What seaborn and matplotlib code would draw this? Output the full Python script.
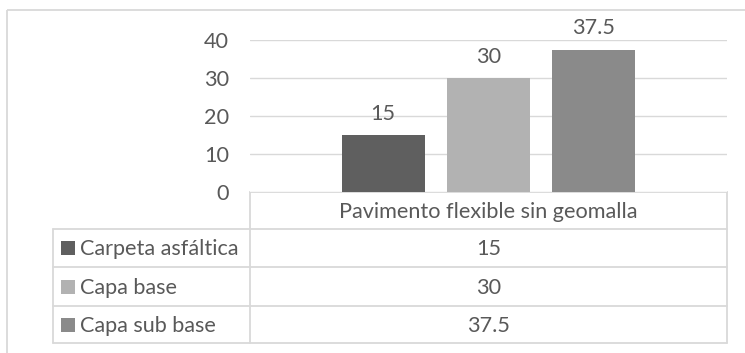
import matplotlib
matplotlib.use("Agg")
import matplotlib.pyplot as plt
import seaborn as sns
import pandas as pd

# Data
category = ["Pavimento flexible sin geomalla"]
series = ["Carpeta asfáltica", "Capa base", "Capa sub base"]
values = [15, 30, 37.5]
value_labels = ["15", "30", "37.5"]
colors = ["#5f5f5f", "#b2b2b2", "#8a8a8a"]
yticks = [0, 10, 20, 30, 40]

sns.set_theme(style="white")
plt.rcParams["font.family"] = ["Lato", "DejaVu Sans"]

TEXT = "#595959"
GRID = "#d9d9d9"
FS = 15.6

W, H = 745, 353
fig = plt.figure(figsize=(W / 100, H / 100), dpi=100)

# Overlay axes in pixel coordinates for the frame and the data table
bg = fig.add_axes([0, 0, 1, 1])
bg.set_xlim(0, W)
bg.set_ylim(H, 0)
bg.axis("off")

# chart frame
bg.plot([7, W], [10, 10], color=GRID, lw=1.3, solid_capstyle="butt")
bg.plot([7, 7], [10, H], color=GRID, lw=1.3, solid_capstyle="butt")

# data table geometry (pixels)
x_left, x_div, x_right = 53, 250, 727
y_rows = [192, 229, 267, 306, 343]
lw_t = 1.3
# header box
bg.plot([x_div, x_right], [y_rows[0], y_rows[0]], color=GRID, lw=lw_t)
bg.plot([x_div, x_div], [y_rows[0], y_rows[-1]], color=GRID, lw=lw_t)
bg.plot([x_right, x_right], [y_rows[0], y_rows[-1]], color=GRID, lw=lw_t)
for y in y_rows[1:]:
    bg.plot([x_left, x_right], [y, y], color=GRID, lw=lw_t)
bg.plot([x_left, x_left], [y_rows[1], y_rows[-1]], color=GRID, lw=lw_t)

xc = (x_div + x_right) / 2
bg.text(xc, (y_rows[0] + y_rows[1]) / 2 + 1, category[0], ha="center", va="center",
        fontsize=FS, color=TEXT)
for i, (name, lab, c) in enumerate(zip(series, value_labels, colors)):
    yc = (y_rows[i + 1] + y_rows[i + 2]) / 2
    bg.add_patch(plt.Rectangle((61, yc - 7), 14, 14, facecolor=c, edgecolor="none"))
    bg.text(80, yc + 1, name, ha="left", va="center", fontsize=FS, color=TEXT)
    bg.text(xc, yc + 1, lab, ha="center", va="center", fontsize=FS, color=TEXT)

# Bar chart axes
ax = fig.add_axes([x_div / W, (H - 192) / H, (x_right - x_div) / W, (192 - 40) / H])
df = pd.DataFrame({"categoria": category * len(series), "capa": series, "valor": values})
sns.barplot(data=df, x="categoria", y="valor", hue="capa", hue_order=series,
            palette=colors, width=0.663, gap=0.214, legend=False, ax=ax,
            saturation=1, edgecolor="none")
ax.set_xlim(-0.5, 0.5)
ax.set_ylim(0, 40)
ax.set_yticks(yticks)
ax.set_yticklabels([str(t) for t in yticks])
ax.set_xticks([])
ax.set_xlabel("")
ax.set_ylabel("")
ax.tick_params(axis="y", length=0, pad=15, labelsize=FS, labelcolor=TEXT)
ax.grid(axis="y", color=GRID, lw=1.0)
ax.set_axisbelow(True)
for s in ax.spines.values():
    s.set_visible(False)

# one container per hue level, in hue_order
for bars, lab in zip(ax.containers, value_labels):
    ax.bar_label(bars, labels=[lab], padding=8, fontsize=FS, color=TEXT, clip_on=False)

fig.savefig("out.png", dpi=100)
